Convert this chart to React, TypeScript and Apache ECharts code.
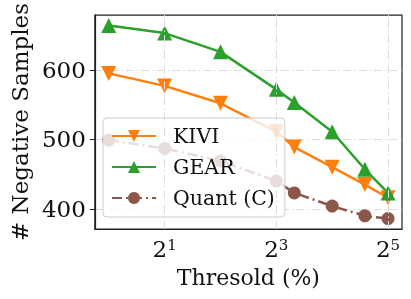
import React, { useEffect, useRef } from "react";
import * as echarts from "echarts";

const thresholds = [1, 2, 4, 8, 10, 16, 24, 32];
const kivi = [595, 577, 552, 511, 489, 460, 435, 416];
const gear = [664, 653, 626, 572, 553, 511, 457, 423];
const quantC = [499, 487, 469, 440, 423, 404, 390, 386];
const xTickValues = [2, 8, 32];
const yTickValues = [400, 500, 600];

const FONT = "DejaVu Serif";

export default function App() {
  const ref = useRef<HTMLDivElement>(null);
  useEffect(() => {
    if (!ref.current) return;
    const chart = echarts.init(ref.current, null, { renderer: "svg" });
    const gridStyle = { color: "#dcdcdc", width: 1, type: [8, 3, 1.5, 3] as any };
    const pair = (ys: number[]) => thresholds.map((x, i) => [x, ys[i]]);
    chart.setOption({
      animation: false,
      textStyle: { fontFamily: FONT },
      grid: {
        left: 92,
        right: 9,
        top: 9,
        bottom: 70,
        show: true,
        borderColor: "#222",
        borderWidth: 1.2,
        backgroundColor: "transparent",
      },
      xAxis: {
        type: "log",
        logBase: 2,
        min: Math.pow(2, -0.25),
        max: Math.pow(2, 5.25),
        name: "Thresold (%)",
        nameLocation: "middle",
        nameGap: 36,
        nameTextStyle: { fontFamily: FONT, fontSize: 22, color: "#111" },
        axisLine: { show: true, lineStyle: { color: "#222", width: 1.2 } },
        axisTick: { show: false },
        splitLine: { show: false },
        minorTick: { show: false },
        axisLabel: {
          margin: 8,
          showMinLabel: false,
          showMaxLabel: false,
          formatter: (v: number) => {
            const e = Math.log2(v);
            const r = Math.round(e);
            if (Math.abs(e - r) > 1e-6) return "";
            if (!xTickValues.some((t) => Math.abs(Math.log2(t) - r) < 1e-6)) return "";
            return "{b|2}{s|" + r + "}";
          },
          rich: {
            b: { fontFamily: FONT, fontSize: 23, color: "#111", lineHeight: 24 },
            s: { fontFamily: FONT, fontSize: 15, color: "#111", verticalAlign: "top", lineHeight: 14, padding: [0, 0, 10, 0] },
          },
        },
      },
      yAxis: {
        type: "value",
        min: 371,
        max: 679,
        splitNumber: 3,
        name: "# Negative Samples",
        nameLocation: "middle",
        nameGap: 60,
        nameTextStyle: { fontFamily: FONT, fontSize: 23, color: "#111" },
        axisLine: { show: true, lineStyle: { color: "#222", width: 1.2 } },
        axisTick: { show: true, inside: false, length: 5, lineStyle: { color: "#222" } },
        axisLabel: {
          margin: 9,
          fontFamily: FONT,
          fontSize: 23,
          color: "#111",
          showMinLabel: false,
          showMaxLabel: false,
          formatter: (v: number) => (yTickValues.includes(Math.round(v)) && Math.abs(v - Math.round(v)) < 1e-6 ? String(v) : ""),
        },
        splitLine: { show: true, showMinLine: false, showMaxLine: false, lineStyle: gridStyle },
      },
      legend: {
        data: ["KIVI", "GEAR", "Quant (C)"],
        orient: "vertical",
        left: 103,
        top: 118,
        itemWidth: 44,
        itemHeight: 15,
        itemGap: 9,
        padding: [7, 10, 8, 8],
        backgroundColor: "rgba(255,255,255,0.8)",
        borderColor: "#cccccc",
        borderWidth: 1,
        borderRadius: 4,
        textStyle: { fontFamily: FONT, fontSize: 20.5, color: "#111", padding: [0, 0, 0, 12], lineHeight: 22 },
      },
      series: [
        {
          name: "grid-x",
          type: "line",
          data: [],
          z: 1,
          silent: true,
          markLine: {
            silent: true,
            symbol: "none",
            label: { show: false },
            lineStyle: gridStyle,
            data: xTickValues.map((v) => ({ xAxis: v })),
          },
        },
        {
          name: "KIVI",
          type: "line",
          data: pair(kivi),
          color: "#ff7f0e",
          symbol: "triangle",
          symbolRotate: 180,
          symbolSize: 15,
          lineStyle: { width: 2.5, color: "#ff7f0e" },
          itemStyle: { color: "#ff7f0e" },
        },
        {
          name: "GEAR",
          type: "line",
          data: pair(gear),
          color: "#2ca02c",
          symbol: "triangle",
          symbolSize: 15,
          lineStyle: { width: 2.5, color: "#2ca02c" },
          itemStyle: { color: "#2ca02c" },
        },
        {
          name: "Quant (C)",
          type: "line",
          data: pair(quantC),
          color: "#8c564b",
          symbol: "circle",
          symbolSize: 13,
          lineStyle: { width: 2.5, color: "#8c564b", type: [10, 4, 2, 4] as any },
          itemStyle: { color: "#8c564b" },
        },
      ],
    });
    return () => chart.dispose();
  }, []);
  return <div ref={ref} style={{ position: "fixed", left: 0, top: 0, width: 411, height: 299 }} />;
}
